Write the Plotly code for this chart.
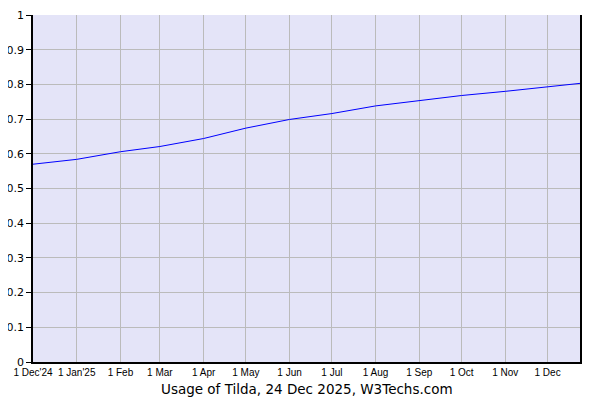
import plotly.graph_objects as go

dates = ["2024-12-01", "2025-01-01", "2025-02-01", "2025-03-01", "2025-04-01",
         "2025-05-01", "2025-06-01", "2025-07-01", "2025-08-01", "2025-09-01",
         "2025-10-01", "2025-11-01", "2025-12-01", "2025-12-24"]
usage = [0.570, 0.584, 0.606, 0.621, 0.644, 0.674, 0.699, 0.716, 0.738,
         0.754, 0.768, 0.780, 0.792, 0.803]

tick_dates = ["2024-12-01", "2025-01-01", "2025-02-01", "2025-03-01", "2025-04-01",
              "2025-05-01", "2025-06-01", "2025-07-01", "2025-08-01", "2025-09-01",
              "2025-10-01", "2025-11-01", "2025-12-01"]
tick_labels = ["1 Dec'24", "1 Jan'25", "1 Feb", "1 Mar", "1 Apr", "1 May", "1 Jun",
               "1 Jul", "1 Aug", "1 Sep", "1 Oct", "1 Nov", "1 Dec"]

title_text = "Usage of Tilda, 24 Dec 2025, W3Techs.com"

fig = go.Figure()
fig.add_trace(go.Scatter(x=dates, y=usage, mode="lines",
                         line=dict(color="#0000ff", width=1), hoverinfo="skip",
                         cliponaxis=True))

fig.update_layout(
    width=592, height=392,
    margin=dict(l=25, r=20, t=7, b=38, autoexpand=False),
    paper_bgcolor="white",
    plot_bgcolor="#e4e4f8",
    showlegend=False,
    font=dict(family="DejaVu Sans", color="#000000"),
    xaxis=dict(
        type="date", automargin=False,
        range=["2024-12-01", "2025-12-24"],
        tickmode="array", tickvals=tick_dates, ticktext=tick_labels,
        tickfont=dict(family="Liberation Sans", size=10, color="#000000"),
        showgrid=True, gridcolor="#bbbbbb", gridwidth=1,
        showline=True, linecolor="#000000", linewidth=1.5,
        ticks="", zeroline=False, fixedrange=True,
    ),
    yaxis=dict(
        automargin=False,
        range=[0, 1], dtick=0.1, tick0=0,
        tickfont=dict(family="DejaVu Sans", size=11, color="#000000"),
        showgrid=True, gridcolor="#bbbbbb", gridwidth=1,
        showline=True, linecolor="#000000", linewidth=1.5, mirror=True,
        ticks="outside", ticklen=5, tickcolor="#000000", tickwidth=1,
        zeroline=False, fixedrange=True,
    ),
    annotations=[dict(
        text=title_text, xref="paper", yref="paper",
        x=0.5, y=0, yshift=-17, xanchor="center", yanchor="top",
        showarrow=False, font=dict(family="DejaVu Sans", size=13.5, color="#000000"),
    )],
)

fig.write_html("out.html")
